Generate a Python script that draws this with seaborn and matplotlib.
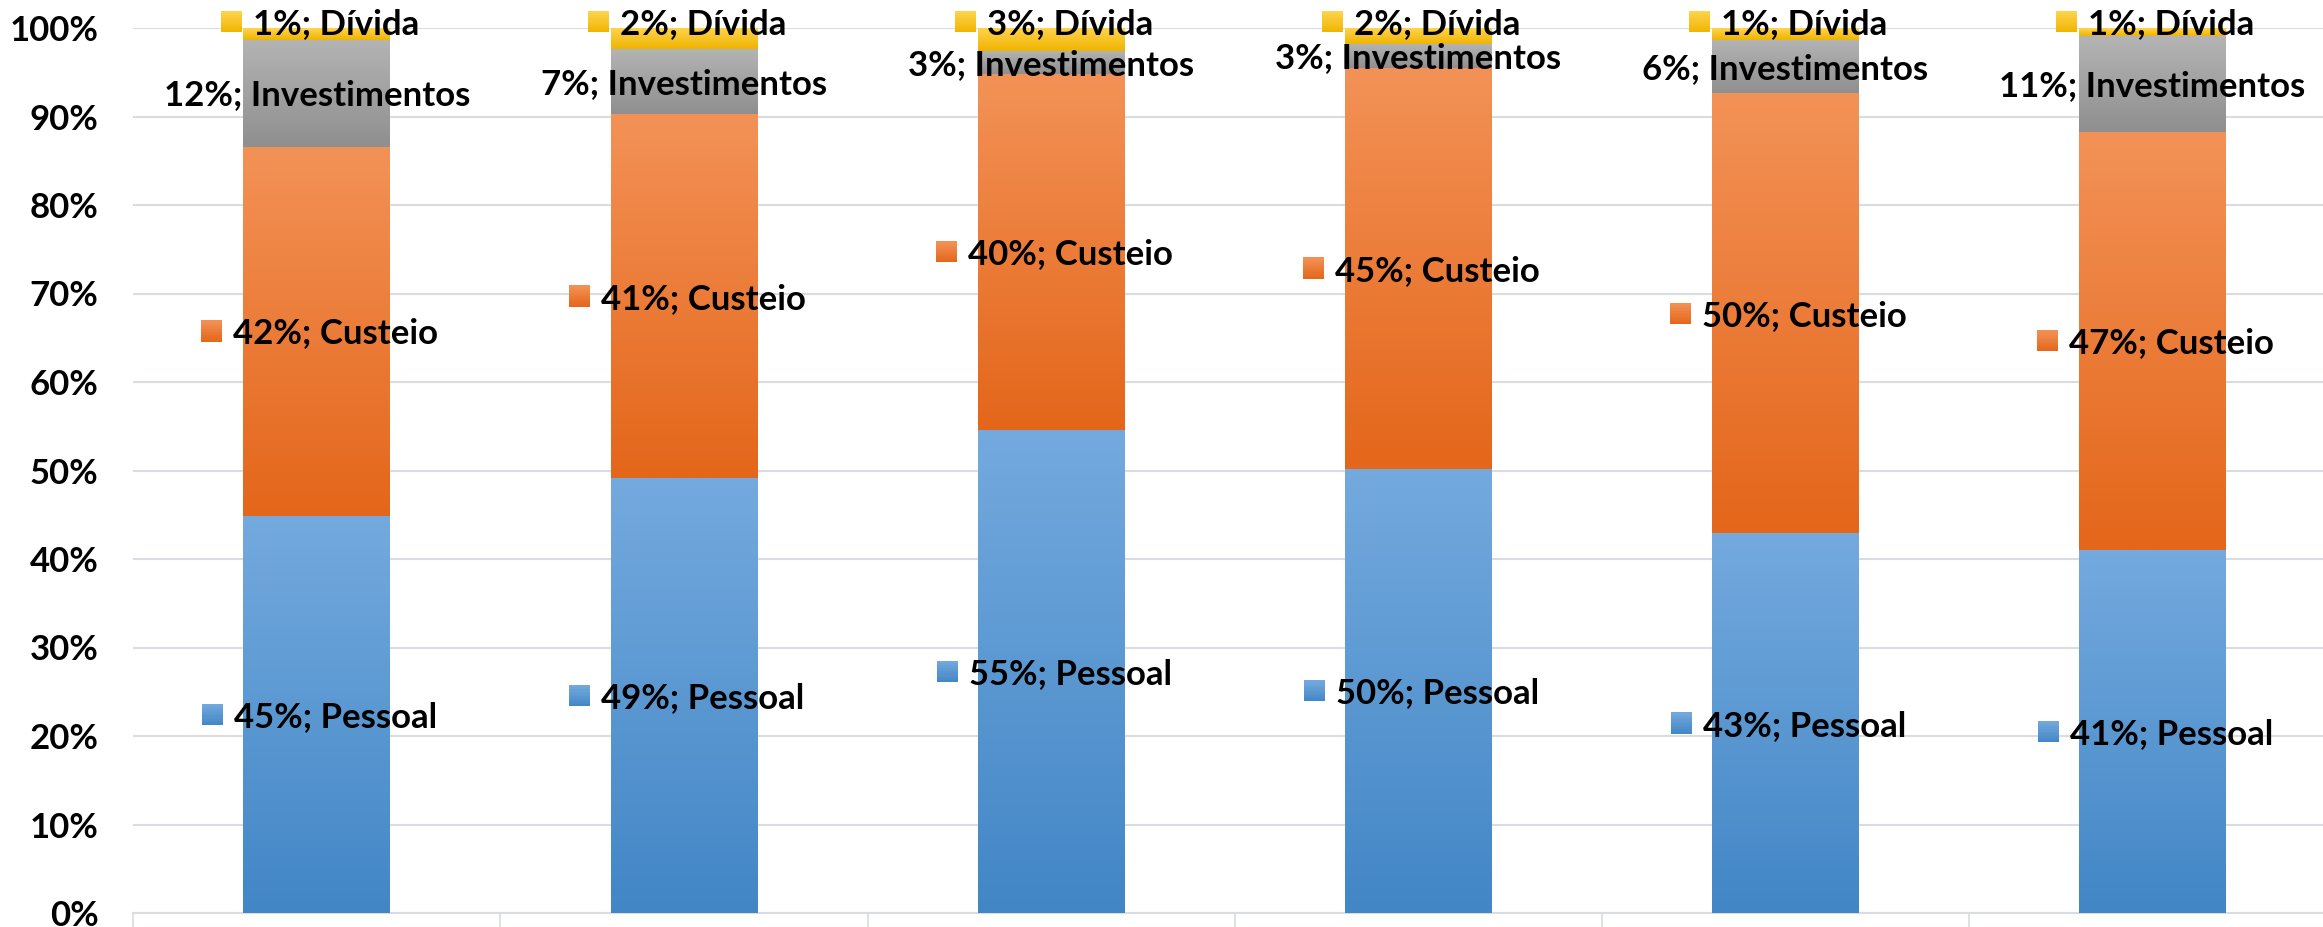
import numpy as np
import matplotlib
matplotlib.use("Agg")
import matplotlib.pyplot as plt
import seaborn as sns
from matplotlib.colors import LinearSegmentedColormap, to_rgb
from matplotlib.patches import Rectangle
from matplotlib.transforms import IdentityTransform

# Budget composition per period (% of total)
categories = ["1", "2", "3", "4", "5", "6"]
series_names = ["Pessoal", "Custeio", "Investimentos", "Dívida"]
pessoal = [44.9, 49.1, 54.6, 50.2, 42.9, 41.0]
custeio = [41.7, 41.2, 40.2, 45.3, 49.7, 47.3]
investimentos = [12.1, 7.3, 2.6, 2.7, 6.1, 10.8]
divida = [1.3, 2.4, 2.6, 1.8, 1.3, 0.9]
y_ticks = [0, 10, 20, 30, 40, 50, 60, 70, 80, 90, 100]

# (top colour, bottom colour) of the vertical gradient for each series
gradients = {
    "Pessoal": ("#74AADE", "#4286C6"),
    "Custeio": ("#F39257", "#E4661A"),
    "Investimentos": ("#B4B4B4", "#8F8F8F"),
    "Dívida": ("#FFD54F", "#EFB400"),
}
show_key = {"Pessoal": True, "Custeio": True, "Investimentos": False, "Dívida": True}

sns.set_theme(style="white")
plt.rcParams["font.family"] = ["Lato", "DejaVu Sans"]
plt.rcParams["font.weight"] = "bold"

FS = 25
DPI = 100
fig = plt.figure(figsize=(23.23, 9.27), dpi=DPI)
ax = fig.add_axes([133.3 / 2323, 14 / 927, 6 * 367.1 / 2323, 885 / 927])

values = {"Pessoal": pessoal, "Custeio": custeio,
          "Investimentos": investimentos, "Dívida": divida}

# cumulative bottoms/tops of each segment
bottoms, tops = {}, {}
run = np.zeros(len(categories))
for name in series_names:
    v = np.array(values[name], dtype=float)
    bottoms[name] = run.copy()
    tops[name] = run + v
    run = run + v

grad = np.linspace(0, 1, 256).reshape(-1, 1)
for k, name in enumerate(reversed(series_names)):
    n_before = len(ax.patches)
    sns.barplot(x=categories, y=tops[name], color=gradients[name][0],
                width=0.4, saturation=1, errorbar=None, ax=ax)
    new = sorted(ax.patches[n_before:], key=lambda p: p.get_x())
    cmap = LinearSegmentedColormap.from_list(name, [gradients[name][1], gradients[name][0]])
    for i, p in enumerate(new):
        y0, y1 = bottoms[name][i], tops[name][i]
        p.set_y(y0)
        p.set_height(y1 - y0)
        p.set_facecolor("none")
        p.set_edgecolor("none")
        x0, w = p.get_x(), p.get_width()
        im = ax.imshow(grad, cmap=cmap, origin="lower", aspect="auto",
                       extent=[x0, x0 + w, y0, y1], zorder=2 + k,
                       interpolation="bilinear")
        im.set_clip_path(p)

ax.set_xlim(-0.5, len(categories) - 0.5)
ax.set_ylim(0, 100)
ax.set_aspect("auto")

# axes styling
grid_c = "#D9DCE1"
ax.set_yticks(y_ticks)
ax.set_yticklabels([f"{t}%" for t in y_ticks], fontsize=FS, fontweight="bold", color="black")
ax.tick_params(axis="y", length=0, pad=25)
ax.yaxis.grid(True, color=grid_c, linewidth=1.5)
ax.set_axisbelow(True)
ax.set_xticks(np.arange(-0.5, len(categories), 1.0))
ax.set_xticklabels([])
ax.tick_params(axis="x", direction="out", length=10, width=1.2, color=grid_c, bottom=True)
for s in ["top", "right", "left"]:
    ax.spines[s].set_visible(False)
ax.spines["bottom"].set_color(grid_c)
ax.spines["bottom"].set_linewidth(1.5)
ax.set_xlabel("")
ax.set_ylabel("")

# data labels: "NN%; Series", centred on each segment with a colour key square
px2pt = 72.0 / DPI
key_px, gap_px = 21, 11
cap_half_pt = 0.358 * FS
labels = []
for name in series_names:
    for i, cat in enumerate(categories):
        v = values[name][i]
        if name == "Dívida":
            yc, dy_px = 100.0, 6.5
        else:
            yc, dy_px = (bottoms[name][i] + tops[name][i]) / 2, 0.0
        dx_px = (key_px + gap_px) / 2 + 3 if show_key[name] else 0
        t = ax.annotate(f"{round(v):.0f}%; {name}", xy=(i, yc),
                        xytext=(dx_px * px2pt, dy_px * px2pt - cap_half_pt),
                        textcoords="offset points", ha="center", va="baseline",
                        fontsize=FS, fontweight="bold", color="black",
                        zorder=20, annotation_clip=False)
        labels.append((t, name, i, yc, dy_px))

fig.canvas.draw()
renderer = fig.canvas.get_renderer()
n_strips = 10
for t, name, i, yc, dy_px in labels:
    if not show_key[name]:
        continue
    bb = t.get_window_extent(renderer)
    cy = ax.transData.transform((i, yc))[1] + dy_px
    top_c, bot_c = np.array(to_rgb(gradients[name][0])), np.array(to_rgb(gradients[name][1]))
    x_left = bb.x0 - gap_px - key_px
    y_bot = cy - key_px / 2
    h = key_px / n_strips
    # small gradient key square built from thin horizontal strips
    for s in range(n_strips):
        f = (s + 0.5) / n_strips
        col = bot_c * (1 - f) + top_c * f
        fig.add_artist(Rectangle((x_left, y_bot + s * h), key_px, h + 0.3,
                                 transform=IdentityTransform(), facecolor=col,
                                 edgecolor="none", zorder=21))

fig.savefig("out.png", dpi=DPI)
